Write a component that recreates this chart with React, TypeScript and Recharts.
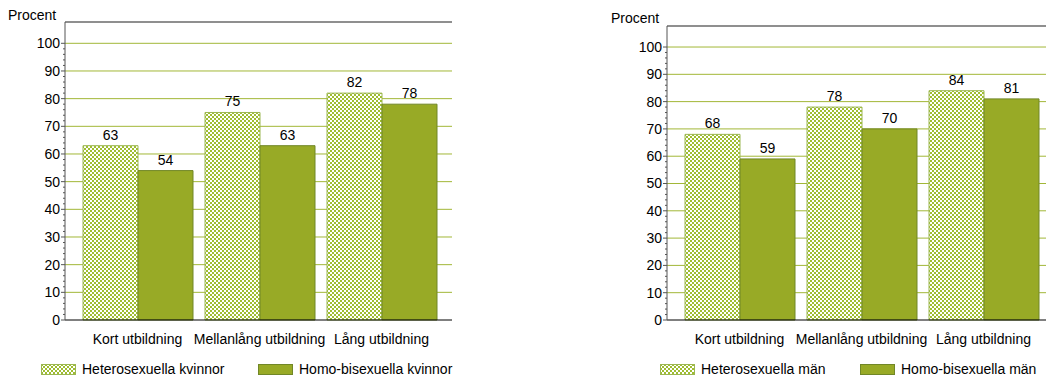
import React from 'react';
import { BarChart, Bar, XAxis, YAxis, CartesianGrid, LabelList, ReferenceLine } from 'recharts';

const categories = ['Kort utbildning', 'Mellanlång utbildning', 'Lång utbildning'];
const heteroKvinnor = [63, 75, 82];
const homoKvinnor = [54, 63, 78];
const heteroMan = [68, 78, 84];
const homoMan = [59, 70, 81];
const gridValues = [10, 20, 30, 40, 50, 60, 70, 80, 90, 100];
const allTicks = Array.from({ length: 51 }, (_, i) => i * 2);

const FONT = '"Liberation Sans", Arial, sans-serif';
const GRID = '#a2b737';
const SOLID = '#98aa26';
const SOLID_STROKE = '#718727';
const CHECK = '#9fbd31';
const CHECK_STROKE = '#9cb752';
const TOP = 107.7;

const YTick = (props: any) => {
  const { x, y, payload } = props;
  const major = payload.value % 10 === 0;
  return (
    <g>
      <line x1={x - (major ? 4 : 2)} x2={x} y1={y} y2={y} stroke="#555" strokeWidth={1} />
      {major && (
        <text x={x - 5} y={y} dy="0.35em" textAnchor="end" fontSize={14} fill="#000" fontFamily={FONT}>
          {payload.value}
        </text>
      )}
    </g>
  );
};

function Panel({ id, hetero, homo, top }: { id: string; hetero: number[]; homo: number[]; top: number }) {
  const data = categories.map((c, i) => ({ name: c, hetero: hetero[i], homo: homo[i] }));
  return (
    <BarChart
      width={470}
      height={352}
      data={data}
      margin={{ top, right: 18, bottom: 2, left: 0 }}
      barGap={0}
      barCategoryGap={6.5}
      style={{ fontFamily: FONT }}
    >
      <defs>
        <pattern id={id} width={4} height={4} patternUnits="userSpaceOnUse">
          <rect width={4} height={4} fill="#fff" />
          <rect width={2} height={2} fill={CHECK} />
          <rect x={2} y={2} width={2} height={2} fill={CHECK} />
        </pattern>
      </defs>
      <CartesianGrid yAxisId="l" vertical={false} horizontalValues={gridValues} stroke={GRID} />
      <XAxis
        dataKey="name"
        padding={{ left: 11.5, right: 9.5 }}
        tickLine={false}
        tickSize={0}
        tickMargin={14}
        axisLine={{ stroke: '#000' }}
        tick={{ fill: '#000', fontSize: 14 }}
        height={30}
      />
      <YAxis
        yAxisId="l"
        domain={[0, TOP]}
        ticks={allTicks}
        interval={0}
        width={65}
        tickSize={0}
        tickMargin={0}
        tickLine={false}
        axisLine={{ stroke: '#555' }}
        tick={<YTick />}
      />
      <YAxis yAxisId="r" orientation="right" width={0} tick={false} tickLine={false} axisLine={{ stroke: '#222' }} />
      <ReferenceLine yAxisId="l" y={TOP} stroke="#6a6a6a" strokeWidth={1.5} />
      <Bar yAxisId="l" dataKey="hetero" fill={`url(#${id})`} stroke={CHECK_STROKE} strokeWidth={1} isAnimationActive={false}>
        <LabelList dataKey="hetero" position="top" offset={6} fill="#000" fontSize={14} />
      </Bar>
      <Bar yAxisId="l" dataKey="homo" fill={SOLID} stroke={SOLID_STROKE} strokeWidth={1} isAnimationActive={false}>
        <LabelList dataKey="homo" position="top" offset={6} fill="#000" fontSize={14} />
      </Bar>
    </BarChart>
  );
}

const Swatch = ({ checked }: { checked: boolean }) => (
  <svg width={35} height={11} style={{ display: 'block' }}>
    <defs>
      <pattern id="legcheck" width={4} height={4} patternUnits="userSpaceOnUse">
        <rect width={4} height={4} fill="#fff" />
        <rect width={2} height={2} fill={CHECK} />
        <rect x={2} y={2} width={2} height={2} fill={CHECK} />
      </pattern>
    </defs>
    <rect
      x={0.5}
      y={0.5}
      width={34}
      height={10}
      fill={checked ? 'url(#legcheck)' : SOLID}
      stroke={checked ? CHECK_STROKE : SOLID_STROKE}
    />
  </svg>
);

const LegendItem = ({ left, checked, label }: { left: number; checked: boolean; label: string }) => (
  <div style={{ position: 'absolute', left, top: 361, display: 'flex', alignItems: 'center', fontSize: 14, fontFamily: FONT, whiteSpace: 'nowrap' }}>
    <Swatch checked={checked} />
    <span style={{ marginLeft: 6 }}>{label}</span>
  </div>
);

export default function App() {
  return (
    <div style={{ position: 'absolute', left: 0, top: 0, width: 1046, height: 378, overflow: 'hidden', background: '#fff', fontFamily: FONT, color: '#000' }}>
      <div style={{ position: 'absolute', left: 8, top: 7, fontSize: 14 }}>Procent</div>
      <div style={{ position: 'absolute', left: 611, top: 10, fontSize: 14 }}>Procent</div>
      <div style={{ position: 'absolute', left: 0, top: 0 }}>
        <Panel id="chkL" hetero={heteroKvinnor} homo={homoKvinnor} top={22} />
      </div>
      <div style={{ position: 'absolute', left: 602, top: 0 }}>
        <Panel id="chkR" hetero={heteroMan} homo={homoMan} top={26} />
      </div>
      <LegendItem left={41} checked label="Heterosexuella kvinnor" />
      <LegendItem left={258} checked={false} label="Homo-bisexuella kvinnor" />
      <LegendItem left={660} checked label="Heterosexuella män" />
      <LegendItem left={860} checked={false} label="Homo-bisexuella män" />
    </div>
  );
}
